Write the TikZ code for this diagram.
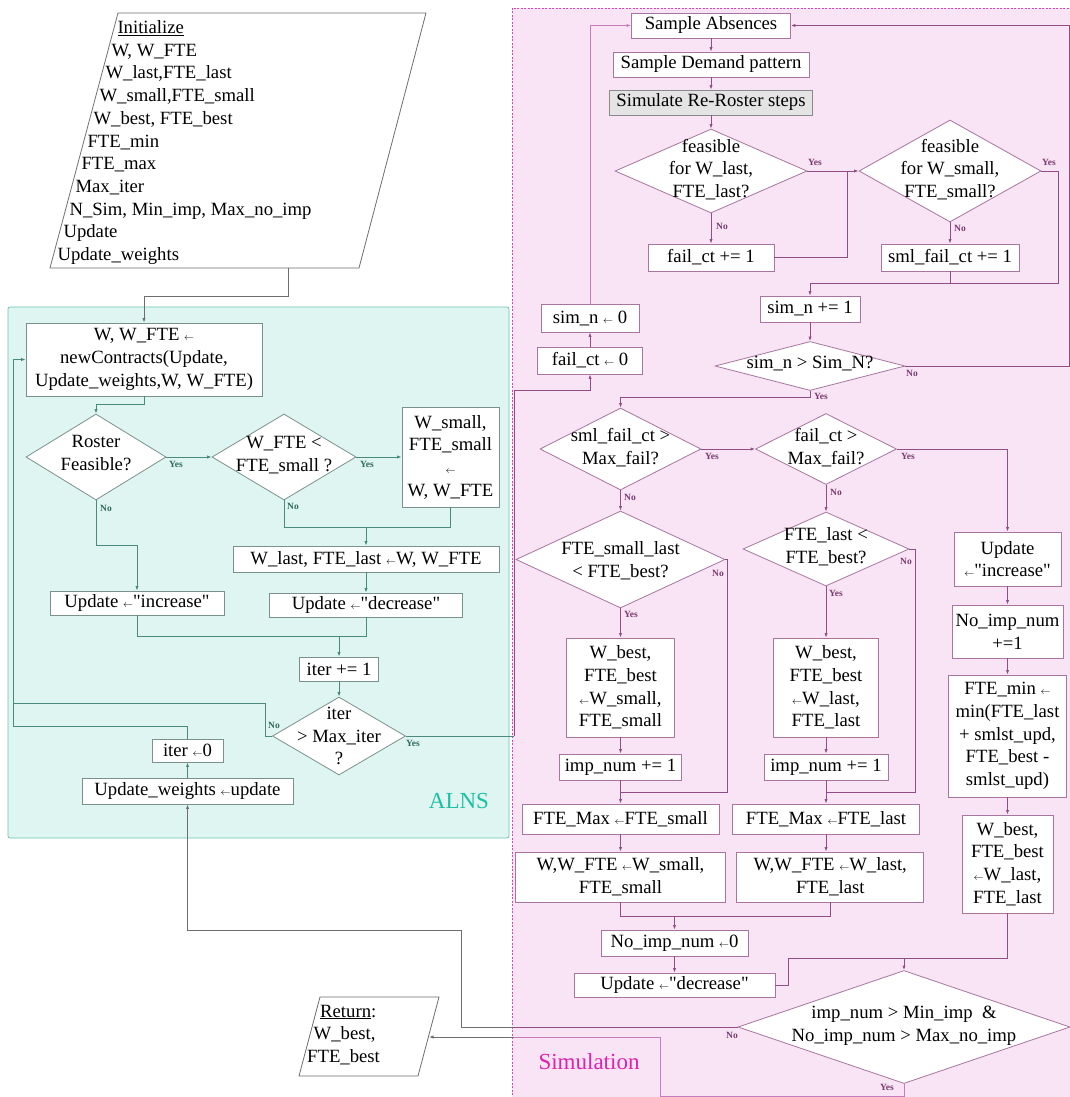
\documentclass[tikz,border=0pt]{standalone}
\usepackage{fontspec}
\setmainfont{Liberation Serif}
% same face without the TeX input mapping, for straight double quotes
\newfontfamily\plainserif{Liberation Serif}
\usetikzlibrary{arrows.meta,shapes.geometric}

\definecolor{alnsfill}{HTML}{DFF5F1}
\definecolor{alnsedge}{HTML}{6CC3B2}
\definecolor{alnsline}{HTML}{4A8A7E}
\definecolor{alnsbox}{HTML}{7B918C}
\definecolor{alnslbl}{HTML}{2F6A5F}
\definecolor{alnstitle}{HTML}{1DBFA3}
\definecolor{simfill}{HTML}{F8E4F4}
\definecolor{simedge}{HTML}{D84AAA}
\definecolor{simline}{HTML}{8F4F86}
\definecolor{simsoft}{HTML}{C67DBC}
\definecolor{simbox}{HTML}{A7759F}
\definecolor{simlbl}{HTML}{7A3A70}
\definecolor{simtitle}{HTML}{E020B0}
\definecolor{outline}{HTML}{6E6E6E}
\definecolor{stepfill}{HTML}{E4E4E4}
\definecolor{stepedge}{HTML}{8A8A8A}

% small assignment arrow and straight quote
\newcommand\lar{{\fontsize{10}{10}\selectfont$\leftarrow$}}
\newcommand\dq{{\plainserif"}}

\begin{document}
\begin{tikzpicture}[x=1pt,y=-1pt,
  txt/.style={font=\fontsize{18.7}{22.7}\selectfont, inner sep=0pt, align=center},
  sz/.style 2 args={minimum width=#1pt, minimum height=#2pt},
  abox/.style={txt, draw=alnsbox, fill=white, line width=0.8pt},
  sbox/.style={txt, draw=simbox, fill=white, line width=0.8pt},
  adia/.style={diamond, draw=alnsbox, fill=white, inner sep=0pt, line width=0.8pt},
  sdia/.style={diamond, draw=simbox, fill=white, inner sep=0pt, line width=0.8pt},
  arr/.style={-{Latex[length=4.5pt,width=3.2pt]}},
  aln/.style={draw=alnsline, line width=0.8pt},
  sln/.style={draw=simline, line width=0.8pt},
  soft/.style={draw=simsoft, line width=0.8pt},
  gln/.style={draw=outline, line width=0.8pt},
  alab/.style={font=\fontsize{9.5}{10}\selectfont\bfseries, text=alnslbl, inner sep=0pt},
  slab/.style={font=\fontsize{9.5}{10}\selectfont\bfseries, text=simlbl, inner sep=0pt},
  title/.style={font=\fontsize{23}{23}\selectfont, inner sep=0pt},
]
\clip (0,0) rectangle (1070,1097);
\fill[white] (0,0) rectangle (1070,1097);

% ---------------- regions ----------------
\draw[fill=simfill, draw=simedge, dash pattern=on 2pt off 1.5pt, line width=0.8pt]
  (512,8) rectangle (1090,1110);
\draw[fill=alnsfill, draw=alnsedge, rounded corners=2pt, line width=0.8pt]
  (8,307) rectangle (509,838);
\node[title, text=alnstitle] (alnsT) at (459,801) {ALNS};
\node[title, text=simtitle] (simT) at (589,1062) {Simulation};

% ---------------- input / output ----------------
\draw[draw=outline, fill=white, line width=0.8pt] (118,13) -- (426,13) -- (359,268) -- (50,268) -- cycle;
\coordinate (initOut) at (288,268);
\foreach \t [count=\i from 0] in {{\underline{Initialize}},{W, W\_FTE},{W\_last,FTE\_last},
   {W\_small,FTE\_small},{W\_best, FTE\_best},{FTE\_min},{FTE\_max},{Max\_iter},
   {N\_Sim, Min\_imp, Max\_no\_imp},{Update},{Update\_weights}}
  \node[txt, anchor=base west] (init\i) at ({117.3-6*\i},{33.3+22.74*\i}) {\t};

\draw[draw=outline, fill=white, line width=0.8pt] (320,997) -- (439,997) -- (418,1076) -- (299,1076) -- cycle;
\coordinate (retIn) at (429,1037);
\node[txt, anchor=base west] (retA) at (320,1017) {\underline{Return}:};
\node[txt, anchor=base west] (retB) at (313.5,1039.5) {W\_best,};
\node[txt, anchor=base west] (retC) at (307,1062) {FTE\_best};

% ---------------- ALNS loop ----------------
\node[abox, sz={236}{73}] (nc) at (144,359.5) {W, W\_FTE \lar\\newContracts(Update,\\Update\_weights,W, W\_FTE)};
\node[adia, sz={140}{86}] (roster) at (96,457) {};
\node[txt] (rosterT) at (96,453) {Roster\\Feasible?};
\node[adia, sz={144}{86}] (wfte) at (284,457) {};
\node[txt] (wfteT) at (284,455) {W\_FTE <\\FTE\_small ?};
\node[abox, sz={97}{100}] (wsmall) at (450.5,457) {W\_small,\\FTE\_small\\\lar\\W, W\_FTE};
\node[abox, sz={266}{26}] (wlast) at (366,559) {W\_last, FTE\_last \lar W, W\_FTE};
\node[abox, sz={174}{24}] (upinc) at (137,603) {Update \lar\dq increase\dq};
\node[abox, sz={193}{24}] (updec) at (366,605) {Update \lar\dq decrease\dq};
\node[abox, sz={79}{24}] (iterinc) at (339,669) {iter += 1};
\node[adia, sz={133}{78}] (itermax) at (339,736) {};
\node[txt] (itermaxT) at (339,736) {iter\\> Max\_iter\\?};
\node[abox, sz={71}{23}] (iterzero) at (187.5,750.5) {iter \lar0};
\node[abox, sz={211}{26}] (upw) at (187.5,791) {Update\_weights \lar update};

% ---------------- simulation ----------------
\node[sbox, sz={159}{25}] (sabs) at (711,25.5) {Sample Absences};
\node[sbox, sz={196}{25}] (sdem) at (711,64.5) {Sample Demand pattern};
\node[txt, draw=stepedge, fill=stepfill, line width=0.8pt, sz={203}{25}] (srr) at (711,102.5) {Simulate Re-Roster steps};
\node[sdia, sz={192}{84}] (feasA) at (711,171) {};
\node[txt] (feasAT) at (711,169.5) {feasible\\for W\_last,\\FTE\_last?};
\node[sdia, sz={182}{102}] (feasB) at (950,171) {};
\node[txt] (feasBT) at (950,169.5) {feasible\\for W\_small,\\FTE\_small?};
\node[sbox, sz={126}{27}] (failinc) at (711,257.5) {fail\_ct += 1};
\node[sbox, sz={138}{27}] (smlinc) at (950,257.5) {sml\_fail\_ct += 1};
\node[sbox, sz={100}{26}] (siminc) at (810,309) {sim\_n += 1};
\node[sdia, sz={190}{49}] (simchk) at (810,366) {};
\node[txt] (simchkT) at (810,364) {sim\_n > Sim\_N?};
\node[sbox, sz={98}{28}] (simzero) at (590,318) {sim\_n \lar{} 0};
\node[sbox, sz={105}{27}] (failzero) at (590,360.5) {fail\_ct \lar{} 0};

\node[sdia, sz={161}{82}] (smlmax) at (620.5,449) {};
\node[txt] (smlmaxT) at (620.5,447.5) {sml\_fail\_ct >\\Max\_fail?};
\node[sdia, sz={141}{71}] (failmax) at (826,449) {};
\node[txt] (failmaxT) at (826,447.5) {fail\_ct >\\Max\_fail?};
\node[sdia, sz={209}{97}] (fsl) at (620.5,559.5) {};
\node[txt] (fslT) at (620.5,560.5) {FTE\_small\_last\\< FTE\_best?};
\node[sdia, sz={166}{74}] (flb) at (826,549) {};
\node[txt] (flbT) at (826,547) {FTE\_last <\\FTE\_best?};

\node[sbox, sz={108}{99}] (wbL) at (620.5,687.5) {W\_best,\\FTE\_best\\\lar W\_small,\\FTE\_small};
\node[sbox, sz={122}{26}] (impL) at (620.5,767) {imp\_num += 1};
\node[sbox, sz={197}{30}] (fmaxL) at (620.5,819) {FTE\_Max \lar FTE\_small};
\node[sbox, sz={210}{50}] (wwL) at (620.5,877) {W,W\_FTE \lar W\_small,\\FTE\_small};
\node[sbox, sz={105}{99}] (wbM) at (826,687.5) {W\_best,\\FTE\_best\\\lar W\_last,\\FTE\_last};
\node[sbox, sz={124}{26}] (impM) at (826,767) {imp\_num += 1};
\node[sbox, sz={187}{30}] (fmaxM) at (826,819) {FTE\_Max \lar FTE\_last};
\node[sbox, sz={187}{50}] (wwM) at (830.3,877) {W,W\_FTE \lar W\_last,\\FTE\_last};

\node[sbox, sz={107}{54}] (updinc) at (1007.5,559) {Update\\\lar\dq increase\dq};
\node[sbox, sz={111}{53}] (noimp) at (1007.5,631.5) {No\_imp\_num\\+=1};
\node[sbox, sz={118}{122}] (ftemin) at (1007.5,736) {FTE\_min \lar\\min(FTE\_last\\+ smlst\_upd,\\FTE\_best -\\smlst\_upd)};
\node[sbox, sz={91}{98}] (wbR) at (1007.5,864) {W\_best,\\FTE\_best\\\lar W\_last,\\FTE\_last};

\node[sbox, sz={147}{26}] (noimpzero) at (674.5,943) {No\_imp\_num \lar0};
\node[sbox, sz={201}{24}] (updec2) at (674.5,985) {Update \lar\dq decrease\dq};
\node[sdia, sz={332}{113}] (final) at (904,1027) {};
\node[txt] (finalT) at (904,1025.5) {imp\_num > Min\_imp~~\&\\No\_imp\_num > Max\_no\_imp};

% ---------------- ALNS connectors ----------------
\draw[gln,arr] (initOut) -- (288,296) -| (nc.north);
\draw[aln,arr] (nc.south) -- (144,404) -| (roster.north);
\draw[aln,arr] (roster.east) -- (wfte.west);
\draw[aln,arr] (wfte.east) -- (wsmall.west);
\draw[aln,arr] (wfte.south) -- (284,527) -| (wlast.north);
\draw[aln] (wsmall.south) |- (366,527);
\draw[aln,arr] (roster.south) -- (96,545) -| (upinc.north);
\draw[aln,arr] (wlast.south) -- (updec.north);
\draw[aln,arr] (upinc.south) |- (339,636) -- (iterinc.north);
\draw[aln] (updec.south) |- (339,636);
\draw[aln,arr] (iterinc.south) -- (itermax.north);
\draw[aln,arr] (itermax.west) -- (265,736) -- (265,703) -- (13,703) -- (13,359.5) -- (nc.west);
\draw[aln] (iterzero.north) |- (13,726) -- (13,703);
\draw[aln,arr] (upw.north) -- (iterzero.south);
\draw[aln] (itermax.east) -- (514,736) coordinate (exitA);
\draw[sln,arr] (exitA) -- (514,390) -| (failzero.south);

\node[alab] (yR) at (176,464) {Yes};
\node[alab] (nR) at (106,508) {No};
\node[alab] (yW) at (367,464) {Yes};
\node[alab] (nW) at (293,506) {No};
\node[alab] (nI) at (274,725) {No};
\node[alab] (yI) at (413,743) {Yes};

% ---------------- simulation connectors ----------------
\draw[sln,arr] (sabs.south) -- (sdem.north);
\draw[sln,arr] (sdem.south) -- (srr.north);
\draw[sln,arr] (srr.south) -- (feasA.north);
\draw[sln,arr] (feasA.east) -- (feasB.west);
\draw[sln,arr] (feasA.south) -- (failinc.north);
\draw[sln] (failinc.east) -| (847,171);
\draw[sln,arr] (feasB.south) -- (smlinc.north);
\draw[sln,arr] (feasB.east) -- (1058,171) -- (1058,283) -| (siminc.north);
\draw[sln] (smlinc.south) -- (950,283);
\draw[sln,arr] (siminc.south) -- (simchk.north);
\draw[sln,arr] (simchk.east) -- (1069,366) -- (1069,25.5) -- (sabs.east);
\draw[sln,arr] (simchk.south) -- (810,397) -| (smlmax.north);
\draw[sln,arr] (failzero.north) -- (simzero.south);
\draw[soft,arr] (simzero.north) -- (590,25.5) -- (sabs.west);
\draw[sln,arr] (smlmax.east) -- (failmax.west);
\draw[sln,arr] (smlmax.south) -- (fsl.north);
\draw[sln,arr] (failmax.east) -| (updinc.north);
\draw[sln,arr] (failmax.south) -- (flb.north);
\draw[sln,arr] (fsl.south) -- (wbL.north);
\draw[sln] (fsl.east) -| (727,792) -- (620.5,792);
\draw[sln] (flb.east) -| (915,792) -- (826,792);
\draw[sln,arr] (flb.south) -- (wbM.north);
\draw[sln,arr] (wbL.south) -- (impL.north);
\draw[sln,arr] (wbM.south) -- (impM.north);
\draw[sln,arr] (impL.south) -- (fmaxL.north);
\draw[sln,arr] (impM.south) -- (fmaxM.north);
\draw[sln,arr] (fmaxL.south) -- (wwL.north);
\draw[sln,arr] (fmaxM.south) -- (fmaxM.south |- wwM.north);
\draw[sln,arr] (wwL.south) |- (674.5,916) -- (noimpzero.north);
\draw[sln] (wwM.south) |- (674.5,916);
\draw[sln,arr] (noimpzero.south) -- (updec2.north);
\draw[sln,arr] (updinc.south) -- (noimp.north);
\draw[sln,arr] (noimp.south) -- (ftemin.north);
\draw[sln,arr] (ftemin.south) -- (wbR.north);
\draw[sln] (wbR.south) |- (788,958) |- (updec2.east);
\coordinate (mergeR) at (904,958);
\draw[sln,arr] (mergeR) -- (final.north);
\draw[sln] (final.west) -- (514,1027) coordinate (exitB);
\draw[gln,arr] (exitB) -- (461,1027) -- (461,930) -| (upw.south);
\draw[soft] (final.south) -- (904,1096) -- (660,1096) -- (660,1037) -- (514,1037) coordinate (exitC);
\draw[gln,arr] (exitC) -- (retIn);

\node[slab] (yFA) at (815,162) {Yes};
\node[slab] (nFA) at (722,226) {No};
\node[slab] (yFB) at (1049,162) {Yes};
\node[slab] (nFB) at (960,228) {No};
\node[slab] (nSC) at (912,373) {No};
\node[slab] (ySC) at (821,396) {Yes};
\node[slab] (ySM) at (712,456) {Yes};
\node[slab] (nSM) at (630,497) {No};
\node[slab] (yFM) at (908,456) {Yes};
\node[slab] (nFM) at (836,492) {No};
\node[slab] (nFS) at (718,573) {No};
\node[slab] (yFS) at (631,614) {Yes};
\node[slab] (nFL) at (906,561) {No};
\node[slab] (yFL) at (836,593) {Yes};
\node[slab] (nFi) at (732,1035) {No};
\node[slab] (yFi) at (887,1087) {Yes};
\end{tikzpicture}
\end{document}
